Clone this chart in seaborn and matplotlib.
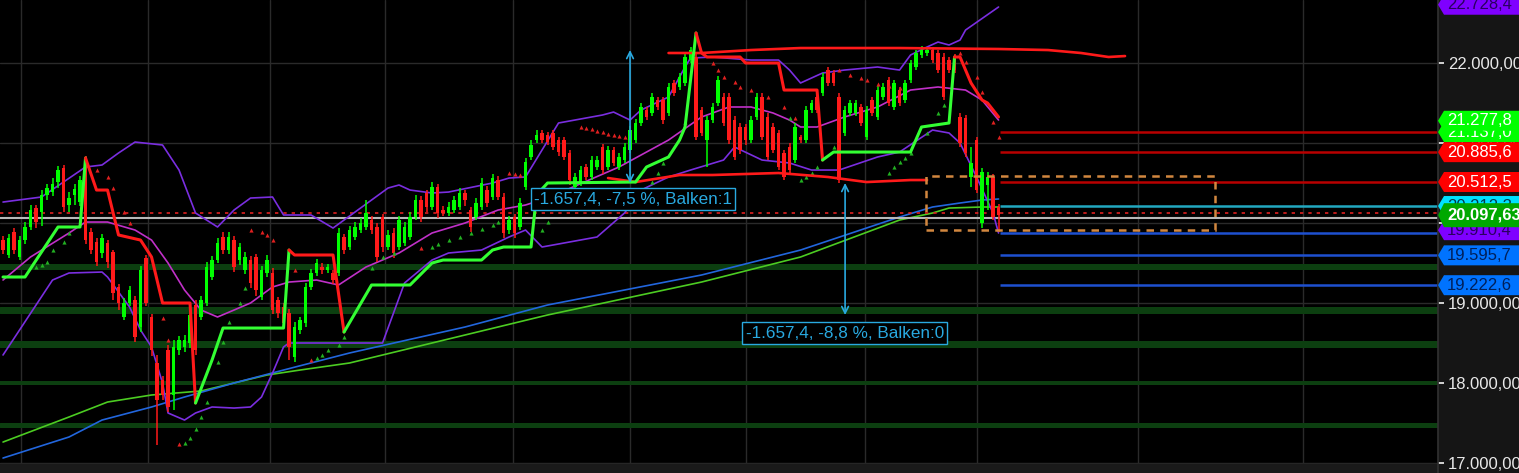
import matplotlib
matplotlib.use("Agg")
import matplotlib.pyplot as plt
from matplotlib.patches import Polygon, Rectangle
import seaborn as sns
import numpy as np

# ---- candles (daily bars, index 0..181) ----
opens = [19787, 19600, 19887, 19575, 19787, 19950, 20187, 20137, 20350, 20387,
         20512, 20687, 20225, 20350, 20262, 20812, 19887, 19762, 19625, 19750,
         19637, 19200, 18825, 19000, 19037, 18700, 19562, 18825, 18250, 18037,
         18412, 17850, 18412, 18450, 18500, 18975, 18825, 19000, 19325, 19537,
         19825, 19662, 19787, 19537, 19412, 19537, 19575, 19075, 19375, 19375,
         19037, 18950, 18875, 18325, 18662, 18750, 19200, 19375, 19450, 19412,
         19375, 19375, 19825, 19700, 19825, 19912, 19950, 20037, 19950, 20075,
         19700, 19875, 19700, 19750, 19825, 20075, 20287, 20375, 20200, 20450,
         20162, 20125, 20162, 20200, 20375, 20162, 20075, 20200, 20412, 20325,
         20537, 20325, 19912, 20075, 19950, 20450, 20825, 21037, 21125, 21100,
         21125, 21037, 21037, 20875, 20450, 20500, 20700, 20575, 20700, 20950,
         20700, 20912, 20700, 20787, 20912, 21037, 21250, 21412, 21375, 21537,
         21537, 21375, 21750, 21700, 21750, 22037, 22075, 21412, 21037, 21287,
         21500, 21575, 21575, 21287, 21200, 21200, 21037, 21325, 21575, 21325,
         21200, 21125, 20875, 20950, 20787, 21075, 21037, 21412, 21575, 21625,
         21912, 21875, 21575, 21125, 21375, 21375, 21450, 21075, 21537, 21325,
         21575, 21787, 21450, 21662, 21537, 21787, 21950, 22100, 22125, 22162,
         22125, 22075, 22037, 22075, 21325, 21312, 20575, 21037, 20000, 20475,
         20575, 20200]
closes = [19662, 19812, 19662, 19787, 19950, 20162, 20012, 20350, 20437, 20487,
          20662, 20200, 20312, 20425, 20537, 19787, 19662, 19512, 19812, 19512,
          19125, 19000, 19000, 19162, 18575, 19412, 19000, 18412, 17787, 17850,
          17700, 18450, 18537, 18537, 18850, 18412, 19037, 19450, 19537, 19750,
          19662, 19825, 19450, 19700, 19575, 19250, 19162, 19412, 19537, 18912,
          18875, 18750, 18450, 18700, 18787, 19200, 19375, 19500, 19412, 19450,
          19287, 19875, 19662, 19912, 19950, 20000, 20125, 19912, 19575, 19700,
          19850, 19625, 20037, 19950, 20075, 20287, 20075, 20200, 20450, 20125,
          20125, 20200, 20287, 20375, 20287, 19950, 20250, 20500, 20250, 20562,
          20325, 19875, 20037, 19875, 20250, 20762, 20975, 21100, 21037, 21012,
          20950, 20887, 20825, 20537, 20575, 20662, 20575, 20787, 20787, 20662,
          20912, 20750, 20825, 20950, 21162, 21250, 21450, 21325, 21575, 21450,
          21287, 21700, 21625, 21825, 22075, 22162, 21075, 21125, 21287, 21450,
          21787, 21250, 21037, 20825, 20912, 21037, 21287, 21575, 21075, 20825,
          20912, 20700, 20575, 20662, 21200, 21037, 21412, 21500, 21412, 21825,
          21750, 21750, 20537, 21412, 21500, 21500, 21250, 21412, 21375, 21662,
          21700, 21500, 21750, 21500, 21750, 22000, 22125, 22162, 22162, 22037,
          21912, 21575, 21912, 21912, 21000, 20875, 20750, 20412, 20637, 20575,
          20075, 20097]
highs = [19837, 19862, 19937, 19837, 20012, 20225, 20225, 20412, 20487, 20562,
         20712, 20725, 20387, 20487, 20587, 20837, 19937, 19812, 19862, 19787,
         19662, 19237, 19062, 19212, 19087, 19462, 19600, 18862, 18350, 18087,
         18475, 18537, 18587, 18600, 18912, 19037, 19087, 19512, 19587, 19812,
         19887, 19887, 19837, 19750, 19637, 19587, 19612, 19462, 19600, 19437,
         19075, 19000, 18925, 18762, 18825, 19250, 19425, 19550, 19500, 19487,
         19412, 19937, 19862, 19962, 20012, 20062, 20287, 20087, 20000, 20112,
         19912, 19937, 20087, 20012, 20137, 20350, 20337, 20412, 20512, 20487,
         20212, 20262, 20337, 20437, 20412, 20200, 20312, 20562, 20462, 20612,
         20587, 20375, 20087, 20112, 20312, 20812, 21037, 21162, 21162, 21137,
         21162, 21075, 21075, 20912, 20625, 20712, 20737, 20837, 20837, 20987,
         20962, 20950, 20875, 21000, 21212, 21300, 21500, 21450, 21625, 21575,
         21575, 21750, 21787, 21875, 22125, 22200, 22125, 21450, 21337, 21500,
         21837, 21625, 21625, 21337, 21250, 21237, 21337, 21625, 21625, 21375,
         21250, 21162, 20912, 21000, 21250, 21100, 21462, 21537, 21625, 21875,
         21950, 21912, 21625, 21462, 21537, 21537, 21487, 21462, 21575, 21712,
         21750, 21825, 21787, 21700, 21787, 22037, 22162, 22212, 22200, 22200,
         22162, 22125, 22075, 22112, 21375, 21350, 20950, 21075, 20687, 20637,
         20612, 20237]
lows = [19612, 19562, 19612, 19537, 19737, 19912, 19937, 19962, 20287, 20337,
        20437, 20137, 20137, 20225, 20212, 19737, 19612, 19462, 19562, 19437,
        19037, 18912, 18787, 18962, 18512, 18637, 18962, 18337, 17225, 17787,
        17637, 17662, 18350, 18387, 18437, 18350, 18787, 18962, 19287, 19500,
        19612, 19612, 19387, 19475, 19362, 19187, 19087, 19037, 19325, 18862,
        18812, 18687, 18287, 18262, 18612, 18700, 19162, 19337, 19362, 19375,
        19237, 19337, 19612, 19662, 19787, 19875, 19912, 19862, 19512, 19637,
        19662, 19562, 19662, 19712, 19787, 20037, 20012, 20137, 20162, 20062,
        20087, 20087, 20125, 20162, 20212, 19887, 20037, 20162, 20200, 20287,
        20287, 19812, 19862, 19812, 19912, 20412, 20787, 21000, 21000, 20975,
        20912, 20837, 20787, 20475, 20412, 20462, 20537, 20537, 20662, 20612,
        20662, 20712, 20662, 20750, 20875, 21000, 21212, 21287, 21337, 21412,
        21237, 21337, 21587, 21662, 21712, 22000, 21037, 21087, 20700, 21250,
        21462, 21212, 20987, 20787, 20862, 20975, 21000, 21287, 21037, 20787,
        20875, 20662, 20537, 20612, 20750, 21000, 21000, 21375, 21375, 21587,
        21712, 21712, 20500, 21087, 21337, 21337, 21212, 21037, 21337, 21287,
        21537, 21462, 21412, 21462, 21500, 21750, 21912, 22062, 22087, 22000,
        21875, 21537, 21875, 21875, 20950, 20825, 20450, 20375, 19937, 20162,
        20037, 19887]

# ---- Bollinger bands ----
bb_up_x = [0, 7, 15, 18, 21, 24, 29, 32, 35, 39, 42, 45, 49, 51, 56, 60, 67, 70, 72, 74,
           78, 81, 89, 92, 95, 101, 109, 111, 114, 116, 121, 124, 125, 129, 136, 141, 143, 145, 149, 153,
           159, 163, 165, 168, 170, 172, 174, 175, 181]
bb_up_y = [20262, 20325, 20700, 20725, 20875, 21012, 20975, 20662, 20125, 19950,
           20162, 20312, 20325, 20100, 20100, 19937, 20287, 20437, 20475, 20412,
           20375, 20387, 20500, 20562, 20575, 21250, 21350, 21387, 21287, 21412,
           21575, 21950, 22062, 22075, 22037, 22037, 21912, 21750, 21875, 21912,
           21950, 21912, 22100, 22200, 22262, 22225, 22287, 22412, 22700]
bb_mid_x = [0, 5, 12, 15, 19, 24, 27, 30, 33, 36, 39, 42, 45, 49, 52, 57, 61, 66, 72, 78,
            84, 90, 95, 99, 112, 121, 127, 132, 136, 140, 143, 145, 148, 153, 159, 165, 170, 175, 178, 181]
bb_mid_y = [19287, 19575, 19875, 20012, 20012, 19912, 19787, 19500, 19162, 18912,
            18825, 18912, 19000, 19200, 19262, 19287, 19225, 19450, 19625, 19875,
            20000, 20162, 20225, 20312, 20700, 21037, 21325, 21450, 21450, 21375,
            21287, 21200, 21200, 21325, 21450, 21662, 21700, 21662, 21537, 21287]
bb_lo_x = [0, 3, 9, 12, 18, 19, 23, 25, 27, 29, 30, 33, 35, 38, 42, 45, 47, 49, 51, 52,
           60, 69, 73, 78, 81, 87, 92, 95, 98, 108, 113, 116, 121, 125, 131, 133, 138, 143, 147, 152,
           159, 163, 169, 172, 174, 177, 180, 181]
bb_lo_y = [18350, 18662, 19287, 19375, 19387, 19325, 18950, 18662, 18450, 18000,
           17625, 17537, 17625, 17700, 17687, 17700, 17825, 18125, 18450, 18500,
           18500, 18500, 19250, 19537, 19625, 19662, 19825, 19912, 19700, 19825,
           20125, 20412, 20575, 20662, 20787, 20950, 20787, 20750, 20662, 20662,
           20825, 20887, 21162, 21125, 21000, 20575, 20125, 19875]

# ---- long moving averages ----
ma_blue_x = [0, 12, 18, 27, 33, 42, 51, 63, 84, 99, 127, 145, 163, 169, 174, 178, 181]
ma_blue_y = [17062, 17325, 17537, 17700, 17825, 18000, 18162, 18375, 18700, 18975,
             19350, 19662, 20075, 20200, 20250, 20287, 20300]
ma_green_x = [0, 12, 19, 27, 36, 42, 48, 54, 63, 78, 93, 99, 127, 145, 163, 169, 172, 178, 181]
ma_green_y = [17262, 17575, 17762, 17850, 17900, 18000, 18100, 18162, 18250, 18500,
              18750, 18850, 19262, 19575, 20037, 20125, 20187, 20200, 20200]

# ---- supertrend (g = below price, r = above price, one entry per segment) ----
st_x = [0, 4, 10, 14, 15, 17, 19, 21, 25, 27, 29, 34, 35, 38, 40, 51, 52, 53, 60, 62,
        67, 74, 78, 80, 87, 89, 91, 96, 97, 99, 115, 117, 121, 123, 124, 126, 127, 128, 134, 135,
        141, 142, 148, 149, 151, 165, 167, 172, 173, 174, 176, 178, 179, 181]
st_y = [19325, 19325, 19950, 19950, 20812, 20412, 20412, 19850, 19787, 19575,
        19000, 19000, 17750, 18287, 18687, 18687, 19662, 19600, 19600, 18637,
        19225, 19225, 19500, 19537, 19537, 19662, 19700, 19700, 20350, 20500,
        20512, 20700, 20825, 21037, 21200, 22375, 22125, 22075, 22075, 22000,
        22000, 21662, 21662, 20787, 20887, 20887, 21200, 21250, 22075, 22075,
        21750, 21537, 21500, 21325]
st_side = ['g'] * 4 + ['r'] * 8 + ['g'] * 4 + ['r'] * 3 + ['g'] * 16 + ['r'] * 8 + ['g'] * 5 + ['r'] * 5

# ---- price channel ----
chan_up_x = [121, 127, 136, 145, 163, 181, 190, 196, 201, 204]
chan_up_y = [22125, 22125, 22162, 22187, 22187, 22175, 22162, 22125, 22075, 22087]
chan_lo_x = [110, 115, 123, 129, 141, 150, 157, 165, 168]
chan_lo_y = [20562, 20512, 20600, 20600, 20625, 20575, 20512, 20537, 20537]

# ---- parabolic SAR dots ----
sar_red_x = [17, 19, 20, 22, 23, 29, 30, 32, 45, 47, 48, 49, 53, 56, 76, 92, 93, 94, 105, 106,
             107, 108, 109, 110, 111, 112, 113, 129, 130, 131, 133, 134, 136, 139, 142, 144, 152, 154, 156, 157,
             159, 161, 163, 174, 175, 177, 178, 180, 181]
sar_red_y = [20662, 20575, 20437, 20137, 20000, 18812, 18537, 17237, 19912, 19887,
             19850, 19787, 19412, 18287, 19687, 20625, 20612, 20600, 21200, 21187,
             21175, 21150, 21137, 21112, 21100, 21087, 21075, 22000, 21912, 21825,
             21762, 21700, 21662, 21575, 21450, 21312, 21912, 21850, 21812, 21787,
             21737, 21712, 21687, 22125, 22012, 21825, 21637, 21262, 21075]
sar_green_x = [6, 7, 8, 9, 11, 12, 33, 34, 35, 36, 37, 39, 40, 41, 43, 44, 57, 58, 59, 61,
               62, 67, 69, 71, 78, 79, 81, 83, 85, 87, 89, 90, 98, 99, 118, 119, 120, 124, 143, 145,
               146, 147, 148, 151, 161, 162, 163, 164, 165, 168, 170, 171]
sar_green_y = [19450, 19475, 19512, 19662, 19762, 19875, 17250, 17312, 17425, 17575,
               17762, 18262, 18512, 18762, 19000, 19187, 18312, 18350, 18412, 18475,
               18575, 19437, 19575, 19625, 19700, 19737, 19787, 19825, 19875, 19925,
               19975, 20012, 19912, 20012, 20512, 20625, 20750, 21262, 21312, 20537,
               20575, 20625, 20700, 20950, 20625, 20700, 20762, 20812, 20875, 21125,
               21375, 21475]

# ---- horizontal levels ----
month_lines = [3.3, 26.4, 48.5, 69.5, 92.7, 114.0, 135.1, 156.7, 177.1, 206.4, 236.4]
zone_levels = [19450, 18912, 18487, 18000, 17475]
res_levels = [21137, 20885.6, 20512.5]
cyan_level = 20212
blue_levels = [19880, 19595.7, 19222.6]
dotted_level = 20125
gray_level = 20062

# ---- measurement tool ----
meas_bar = [114, 153.1]
meas_from = [20500, 20500]
meas_to = [22162, 18850]
meas_label_bar = [96.6, 135.0]
meas_label_price = [20300, 18625]
meas_text = ["-1.657,4, -7,5 %, Balken:1", "-1.657,4, -8,8 %, Balken:0"]

box_bars = [167.8, 220.4]
box_prices = [19912, 20587]

# ---- price tags on the axis (drawn in this order, later ones on top) ----
tag_vals = [22728.4, 21137.0, 21277.8, 20885.6, 20512.5, 20212.3, 19910.4, 20097.63, 19595.7, 19222.6]
tag_text = ["22.728,4", "21.137,0", "21.277,8", "20.885,6", "20.512,5", "20.212,3",
            "19.910,4", "20.097,63", "19.595,7", "19.222,6"]
tag_bg = ["#7f00ff", "#00ff00", "#00ff00", "#ff0000", "#ff0000", "#00e1ff",
          "#7f00ff", "#00a800", "#0073ff", "#0073ff"]
tag_fg = ["#2a0060", "white", "white", "white", "white", "#003a4a",
          "#2a0060", "white", "#00205a", "#00205a"]

sns.set_theme(style="dark", rc={"axes.facecolor": "#000000", "figure.facecolor": "#151515"})
plt.rcParams['font.family'] = ['Liberation Sans', 'DejaVu Sans']

fig = plt.figure(figsize=(15.19, 4.73), dpi=100)
ax = fig.add_axes([0, 0, 1438 / 1519, 1])
ax.set_xlim(-0.55, 260.9)
ax.set_ylim(16875, 22787.5)

# grid and right axis
ax.set_yticks(range(17000, 23000, 1000))
ax.set_yticklabels([f"{v:,.2f}".replace(",", "X").replace(".", ",").replace("X", ".")
                    for v in range(17000, 23000, 1000)])
ax.yaxis.tick_right()
ax.tick_params(axis='y', colors='#e8e8e8', labelsize=12, length=4, pad=3)
ax.tick_params(axis='x', bottom=False, labelbottom=False)
ax.grid(axis='y', color='#2a2a2a', lw=1)
ax.grid(axis='x', visible=False)
for m in month_lines:
    ax.axvline(m, color='#2a2a2a', lw=1, zorder=0.5)
for s in ax.spines.values():
    s.set_visible(False)
ax.spines['right'].set_visible(True)
ax.spines['right'].set_color('#303030')
ax.axhspan(16875, 16985, color='#1a1a1a', zorder=0.6)

# support zones
for lv, w in zip(zone_levels, [6, 7, 7, 4, 5]):
    ax.axhline(lv, color='#0c3f10', lw=w * 0.72, zorder=1)

# long MAs
sns.lineplot(x=ma_green_x, y=ma_green_y, ax=ax, color='#4ccc22', lw=1.2, sort=False, zorder=2)
sns.lineplot(x=ma_blue_x, y=ma_blue_y, ax=ax, color='#2266dd', lw=1.2, sort=False, zorder=2)

# bands
sns.lineplot(x=bb_up_x, y=bb_up_y, ax=ax, color='#7a2ee0', lw=1.2, sort=False, zorder=3)
sns.lineplot(x=bb_lo_x, y=bb_lo_y, ax=ax, color='#7a2ee0', lw=1.2, sort=False, zorder=3)
sns.lineplot(x=bb_mid_x, y=bb_mid_y, ax=ax, color='#c030c8', lw=1.2, sort=False, zorder=3)

# full width lines
ax.axhline(dotted_level, color='#e02020', ls=(0, (2, 3)), lw=1.2, zorder=2)
ax.axhline(gray_level, color='#b8b8b8', lw=1.5, zorder=2)

# right side levels
x_end = ax.get_xlim()[1]
start_bar = len(closes) - 0.7
ax.hlines(res_levels, start_bar, x_end, color='#b80000', lw=1.8, zorder=2)
ax.hlines(cyan_level, start_bar, x_end, color='#22a8c0', lw=1.8, zorder=2)
ax.hlines(blue_levels, start_bar, x_end, color='#1e50d0', lw=1.8, zorder=2)

# candles
bars = np.arange(len(closes))
o = np.array(opens, float)
c = np.array(closes, float)
col = np.where(c >= o, '#00ff00', '#ff1a1a')
ax.vlines(bars, lows, highs, colors=col, lw=1.1, zorder=5)
ax.bar(bars, np.maximum(np.abs(c - o), 15), bottom=np.minimum(o, c), width=0.6,
       color=col, lw=0, zorder=5)

# SAR
sns.scatterplot(x=sar_red_x, y=sar_red_y, ax=ax, color='#e02020', marker='^', s=9,
                linewidth=0, zorder=6)
sns.scatterplot(x=sar_green_x, y=sar_green_y, ax=ax, color='#22b022', marker='^', s=9,
                linewidth=0, zorder=6)

# channel
ax.plot(chan_up_x, chan_up_y, color='#ff1a1a', lw=1.9, zorder=7)
ax.plot(chan_lo_x, chan_lo_y, color='#ff1a1a', lw=1.9, zorder=7)

# supertrend
start = 0
for k in range(1, len(st_side) + 1):
    if k == len(st_side) or st_side[k] != st_side[start]:
        ax.plot(st_x[start:k + 1], st_y[start:k + 1],
                color='#33ff33' if st_side[start] == 'g' else '#ff1a1a',
                lw=2.2, zorder=7)
        start = k

# dashed box
ax.add_patch(Rectangle((box_bars[0], box_prices[0]), box_bars[1] - box_bars[0],
                       box_prices[1] - box_prices[0], fill=False, ec='#d2873f',
                       ls=(0, (3, 2.5)), lw=1.8, zorder=8))

# measurement arrows
for b, y0, y1, lb, lp, t in zip(meas_bar, meas_from, meas_to, meas_label_bar, meas_label_price, meas_text):
    ax.annotate('', xy=(b, y1), xytext=(b, y0),
                arrowprops=dict(arrowstyle='<->', color='#29a9e0', lw=1.2,
                                shrinkA=0, shrinkB=0, mutation_scale=12), zorder=9)
    ax.text(lb, lp, t, color='#29a9e0', fontsize=12.3, ha='left', va='center', zorder=10,
            bbox=dict(boxstyle='square,pad=0.18', fc='black', ec='#29a9e0', lw=1))

# axis price tags
tr = ax.get_yaxis_transform()
px_x = 1 / 1438
px_y = (22787.5 - 16875) / 473
for k, (v, t, bg, fg) in enumerate(zip(tag_vals, tag_text, tag_bg, tag_fg)):
    main = t == "20.097,63"
    h = (12 if main else 10) * px_y
    poly = Polygon([(1.0, v), (1 + 6 * px_x, v + h), (1.07, v + h), (1.07, v - h), (1 + 6 * px_x, v - h)],
                   closed=True, transform=tr, fc=bg, ec=bg, lw=0, clip_on=False, zorder=20 + 2 * k)
    ax.add_patch(poly)
    ax.text(1 + 9 * px_x, v, t, transform=tr, ha='left', va='center', fontsize=12,
            color=fg, fontweight='bold' if main else 'normal', clip_on=False, zorder=21 + 2 * k)

fig.savefig("out.png", dpi=100, facecolor=fig.get_facecolor())
